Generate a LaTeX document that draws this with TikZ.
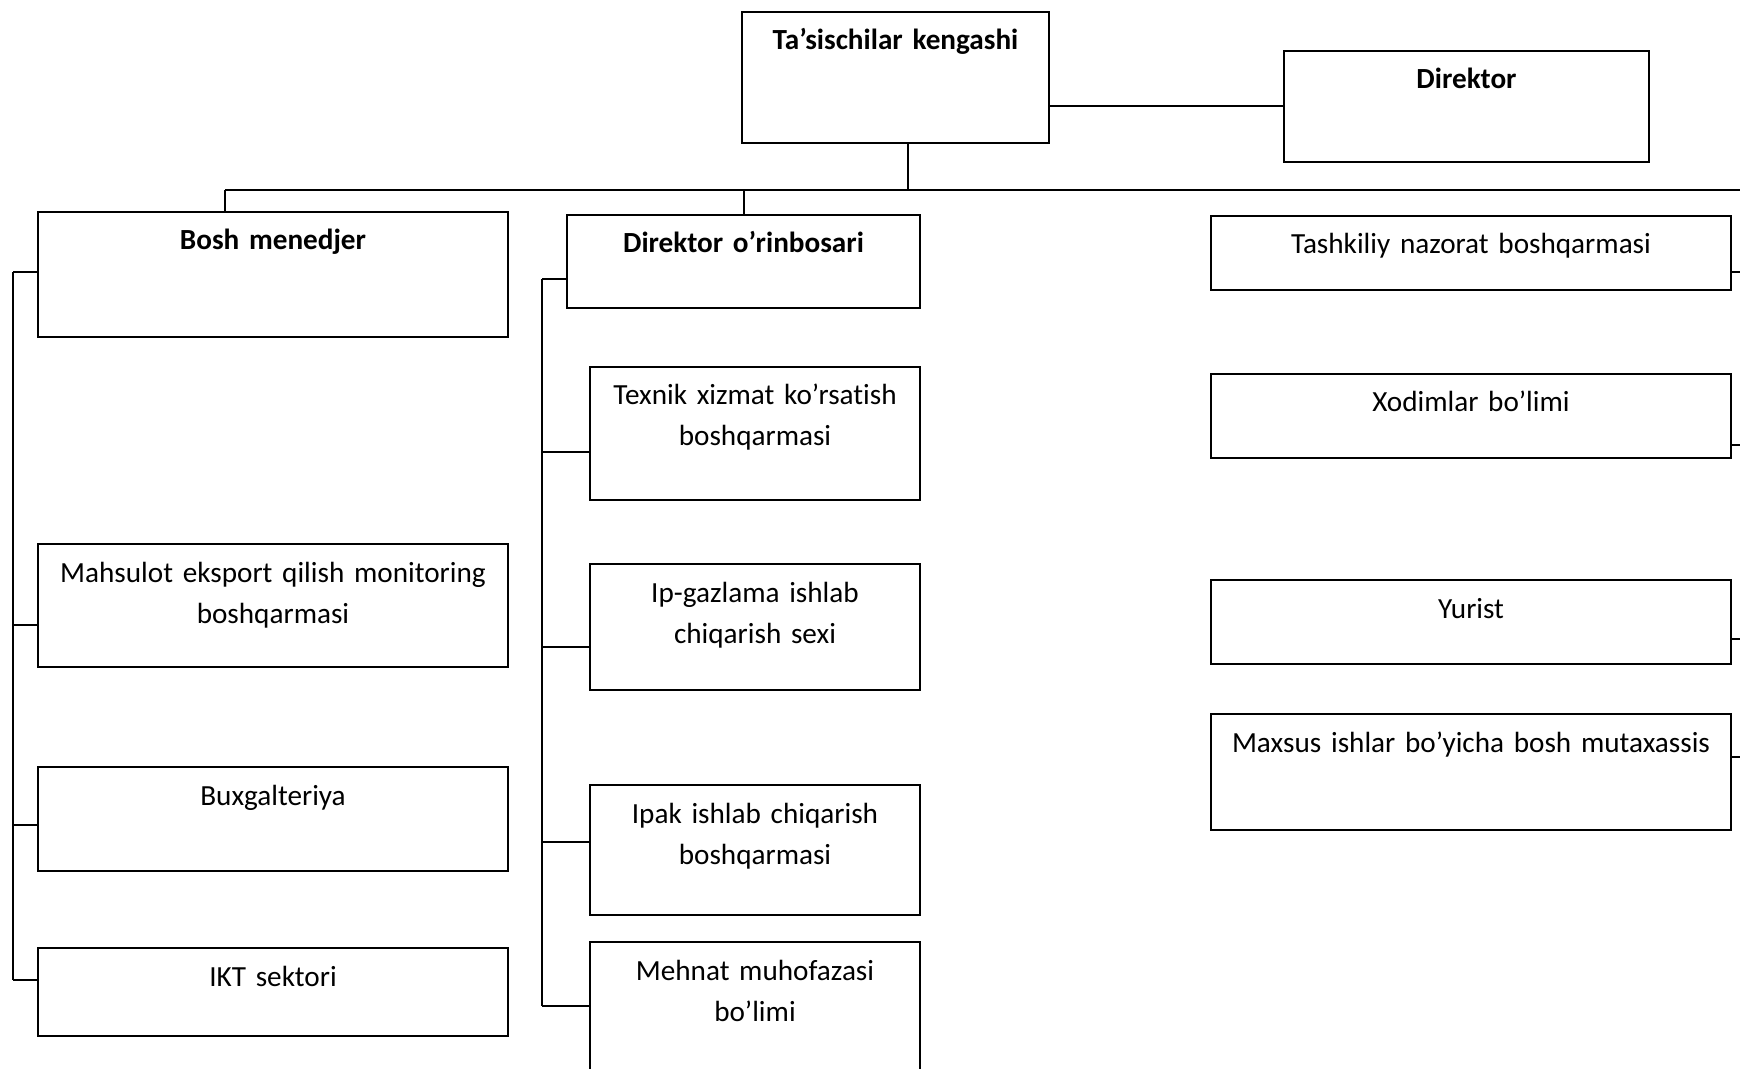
\documentclass[tikz,border=0pt]{standalone}
\usepackage{fontspec}
\setmainfont{Carlito}[Ligatures=NoCommon]
\usepackage{tikz}
\usetikzlibrary{positioning,calc}

\begin{document}
\begin{tikzpicture}[
    x=0.5pt, y=-0.5pt,
    font=\fontsize{14.6pt}{20.5pt}\selectfont,
    unitbox/.style={draw, line width=1pt, anchor=north west, inner sep=0pt,
        align=center, text height=19pt},
    leftbox/.style={unitbox, text width=235pt},
    midbox/.style={unitbox, text width=165pt},
    rightbox/.style={unitbox, text width=260pt},
    link/.style={line width=1pt},
    thinlink/.style={line width=0.6pt}
]
    \clip (0,0) rectangle (1740,1069);

    % top level
    \node[unitbox, text width=153.5pt, text depth=46.5pt, font=\fontsize{14.6pt}{20.5pt}\selectfont\bfseries] (tas) at (741,11) {Ta’sischilar kengashi};
    \node[unitbox, text width=182.5pt, text depth=36.5pt, font=\fontsize{14.6pt}{20.5pt}\selectfont\bfseries] (dir) at (1283,50) {Direktor};

    % left column
    \node[leftbox, text depth=43.5pt, font=\fontsize{14.6pt}{20.5pt}\selectfont\bfseries] (bosh) at (37,211) {Bosh menedjer};
    \node[leftbox, text depth=42.5pt] (mah) at (37,543) {Mahsulot eksport qilish monitoring\\boshqarmasi};
    \node[leftbox, text depth=33pt] (bux) at (37,766) {Buxgalteriya};
    \node[leftbox, text depth=25pt] (ikt) at (37,947) {IKT sektori};

    % middle column
    \node[unitbox, text width=176.5pt, text depth=27.5pt, font=\fontsize{14.6pt}{20.5pt}\selectfont\bfseries] (orin) at (566,214) {Direktor o’rinbosari};
    \node[midbox, text depth=47.5pt] (tex) at (589,366) {Texnik xizmat ko’rsatish\\boshqarmasi};
    \node[midbox, text depth=44pt] (ipg) at (589,563) {Ip-gazlama ishlab\\chiqarish sexi};
    \node[midbox, text depth=46pt] (ipk) at (589,784) {Ipak ishlab chiqarish\\boshqarmasi};
    \node[midbox, text depth=61pt] (meh) at (589,941) {Mehnat muhofazasi\\bo’limi};

    % right column
    \node[rightbox, text depth=18pt] (tash) at (1210,215) {Tashkiliy nazorat boshqarmasi};
    \node[rightbox, text depth=23pt] (xod) at (1210,373) {Xodimlar bo’limi};
    \node[rightbox, text depth=23pt] (yur) at (1210,579) {Yurist};
    \node[rightbox, text depth=39pt] (max) at (1210,713) {Maxsus ishlar bo’yicha bosh mutaxassis};

    % bus and spines
    \coordinate (bus) at (908,190);
    \coordinate (busL) at (225,190);
    \coordinate (busR) at (1740,190);
    \coordinate (ls1) at (13,272);
    \coordinate (ls2) at (13,625);
    \coordinate (ls3) at (13,825);
    \coordinate (ls4) at (13,980);
    \coordinate (ms1) at (542,279);
    \coordinate (ms2) at (542,452);
    \coordinate (ms3) at (542,647);
    \coordinate (ms4) at (542,842);
    \coordinate (ms5) at (542,1006);
    \coordinate (rs1) at (1740,272);
    \coordinate (rs2) at (1740,445);
    \coordinate (rs3) at (1740,639);
    \coordinate (rs4) at (1740,757);

    \draw[link] (dir.west -| tas.east) -- (dir.west);
    \draw[thinlink] (tas.south -| bus) -- (bus);
    \draw[link] (busL) -- (busR);
    \draw[link] (busL) -- (busL |- bosh.north);
    \draw[link] (orin.north |- busL) -- (orin.north);

    \draw[link] (ls1) -- (ls4);
    \draw[link] (ms1) -- (ms5);
    \foreach \c/\n in {ls1/bosh, ls2/mah, ls3/bux, ls4/ikt,
                       ms1/orin, ms2/tex, ms3/ipg, ms4/ipk, ms5/meh}
        \draw[link] (\c) -- (\c -| \n.west);
    \foreach \c/\n in {rs1/tash, rs2/xod, rs3/yur, rs4/max}
        \draw[link] (\c -| \n.east) -- (\c);
\end{tikzpicture}
\end{document}
